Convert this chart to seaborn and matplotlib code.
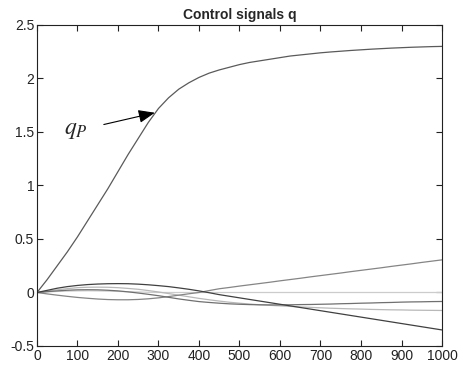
import pandas as pd
import seaborn as sns
import matplotlib.pyplot as plt

# time steps (sampled every 25)
steps = list(range(0, 1001, 25))

# control signals
q_p = [0, 0.12, 0.25, 0.38, 0.52, 0.67, 0.82, 0.97, 1.13, 1.29,
       1.44, 1.59, 1.72, 1.82, 1.90, 1.96, 2.01, 2.05, 2.08, 2.105,
       2.13, 2.15, 2.165, 2.18, 2.195, 2.21, 2.22, 2.23, 2.24, 2.248,
       2.255, 2.262, 2.268, 2.274, 2.279, 2.284, 2.288, 2.292, 2.295, 2.298,
       2.30]
q_a = [0, 0.02, 0.04, 0.055, 0.066, 0.074, 0.079, 0.082, 0.083, 0.082,
       0.078, 0.072, 0.064, 0.055, 0.043, 0.03, 0.015, -0.002, -0.02, -0.035,
       -0.05, -0.065, -0.08, -0.095, -0.11, -0.125, -0.14, -0.155, -0.17, -0.185,
       -0.2, -0.215, -0.23, -0.245, -0.26, -0.275, -0.29, -0.305, -0.32, -0.335,
       -0.35]
q_b = [0, -0.013, -0.025, -0.036, -0.046, -0.054, -0.061, -0.066, -0.068, -0.068,
       -0.065, -0.059, -0.05, -0.038, -0.025, -0.012, 0.0, 0.018, 0.035, 0.047,
       0.060, 0.072, 0.084, 0.096, 0.109, 0.121, 0.133, 0.146, 0.158, 0.170,
       0.182, 0.195, 0.207, 0.219, 0.231, 0.244, 0.256, 0.268, 0.281, 0.293,
       0.305]
q_c = [0, 0.008, 0.015, 0.021, 0.025, 0.026, 0.025, 0.021, 0.015, 0.006,
       -0.005, -0.017, -0.03, -0.045, -0.06, -0.073, -0.085, -0.093, -0.1, -0.106,
       -0.11, -0.113, -0.115, -0.116, -0.116, -0.115, -0.113, -0.112, -0.11, -0.108,
       -0.105, -0.103, -0.1, -0.098, -0.095, -0.093, -0.09, -0.088, -0.087, -0.085,
       -0.084]
q_d = [0, 0.013, 0.025, 0.036, 0.045, 0.049, 0.05, 0.049, 0.045, 0.038,
       0.03, 0.018, 0.005, -0.01, -0.025, -0.04, -0.055, -0.068, -0.08, -0.091,
       -0.1, -0.108, -0.115, -0.12, -0.125, -0.13, -0.135, -0.139, -0.143, -0.147,
       -0.15, -0.153, -0.155, -0.158, -0.16, -0.162, -0.163, -0.165, -0.166, -0.167,
       -0.168]
q_e = [0, 0.005, 0.01, 0.013, 0.015, 0.016, 0.015, 0.013, 0.01, 0.007,
       0.005, 0.002, 0, 0, 0, 0, 0, 0, 0, 0,
       0, 0, 0, 0, 0, 0, 0, 0, 0, 0,
       0, 0, 0, 0, 0, 0, 0, 0, 0, 0,
       0]

# draw order: light signals first so the dark ones sit on top
signals = {"qE": q_e, "qD": q_d, "qB": q_b, "qC": q_c, "qA": q_a, "qP": q_p}
colors = {"qP": "#5a5a5a", "qA": "#404040", "qB": "#858585",
          "qC": "#707070", "qD": "#b8b8b8", "qE": "#cccccc"}

df = pd.DataFrame([
    {"step": s, "value": v, "signal": name}
    for name, vals in signals.items()
    for s, v in zip(steps, vals)
])

sns.set_style("white")
plt.rcParams["font.family"] = ["Liberation Sans", "DejaVu Sans"]
plt.rcParams["mathtext.fontset"] = "stix"

fig = plt.figure(figsize=(4.64, 3.72), dpi=100)
ax = fig.add_axes([0.0797, 0.0699, 0.8729, 0.8629])

sns.lineplot(data=df, x="step", y="value", hue="signal", palette=colors,
             linewidth=0.9, legend=False, ax=ax)

ax.set_xlim(0, 1000)
ax.set_ylim(-0.5, 2.5)
ax.set_xticks(range(0, 1001, 100))
ax.set_yticks([-0.5, 0, 0.5, 1, 1.5, 2, 2.5])
ax.set_yticklabels(["-0.5", "0", "0.5", "1", "1.5", "2", "2.5"])
ax.tick_params(direction="in", length=4, width=0.8, labelsize=10,
               top=True, right=True, bottom=True, left=True, pad=2, colors="#222222")
for sp in ax.spines.values():
    sp.set_color("#222222")
    sp.set_linewidth(0.8)
ax.set_xlabel("")
ax.set_ylabel("")
ax.set_title("Control signals q", fontsize=10, fontweight="bold", pad=4)

ax.annotate("", xy=(291, 1.68), xytext=(165, 1.57),
            arrowprops=dict(arrowstyle="-|>,head_length=1.0,head_width=0.4",
                            color="black", lw=0.8, shrinkA=0, shrinkB=0))
ax.text(96, 1.52, r"$q_P$", fontsize=17, ha="center", va="center")

fig.savefig("out.png", dpi=100)
